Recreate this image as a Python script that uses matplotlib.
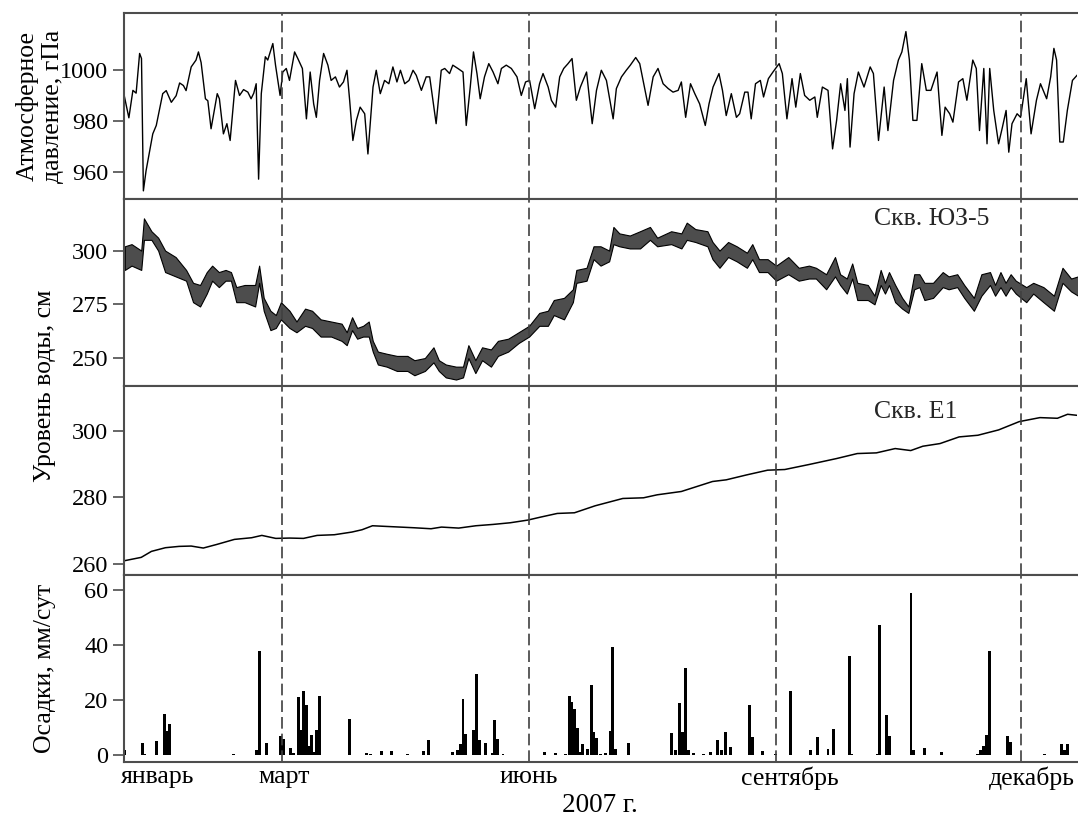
import matplotlib
matplotlib.use("Agg")
import matplotlib.pyplot as plt

plt.rcParams["font.family"] = ["Liberation Serif", "DejaVu Serif"]

# day of year 2007 (0 = 1 January)
press_day = [0, 2, 3.5, 4.7, 6, 6.7, 7.4, 8.4, 10.9, 12.2, 14.6, 15.9, 17.8, 19.6, 20.9,
             22.3, 23.3, 25.2, 27, 27.9, 28.9, 30.5, 31.4, 32.6, 34.9, 35.7, 37.2, 38.5,
             39.7, 41.7, 43.2, 44.7, 46.3, 47.5, 48.5, 49.4, 50.3, 51.3, 52.8, 53.7, 55.6,
             56.6, 58.3, 59.3, 60.6, 61.8, 63.7, 64.9, 66.6, 68.1, 69.5, 70.8, 71.8, 73,
             74.5, 76.1, 77.3, 78.9, 80.4, 81.9, 83.2, 84.2, 85.4, 86.7, 88.1, 89.8, 91,
             92.9, 94.1, 95.6, 97.2, 98.8, 100.3, 101.8, 103.1, 104.7, 106.3, 107.8, 109,
             110.9, 112.7, 114, 116.4, 118.3, 119.6, 121.4, 122.6, 124.5, 126.4, 127.6,
             129.1, 130.3, 131.6, 132.8, 134.4, 136, 137.6, 139.4, 140.7, 142.5, 144.4,
             146.5, 148.1, 149.7, 151.2, 153.1, 154.9, 156.2, 158.1, 159.3, 160.9, 162.4,
             163.9, 165.5, 167, 168.6, 170.1, 172.4, 174.5, 176.1, 177.9, 179.8, 182.3,
             183.5, 185.4, 187.2, 188.7, 190.7, 192.2, 193.7, 195.3, 197.2, 199, 200.9,
             202.8, 204.6, 206.5, 207.7, 209.3, 211.1, 212.7, 214.5, 216.6, 218, 219.5,
             221.7, 223, 224.4, 226.3, 228.2, 229.4, 231.3, 232.5, 233.7, 235.3, 237.1,
             238.3, 240.1, 241.8, 244.1, 245.3, 247, 248.9, 250.3, 252, 253.6, 255.5,
             257.4, 258.3, 260.2, 262.3, 264, 265.5, 267, 268.6, 269.5, 270.5, 272, 273.6,
             275.7, 278, 279.2, 281.1, 283.2, 284.6, 286.7, 288.5, 289.8, 291.3, 292.6,
             293.9, 295.4, 297.2, 298.9, 300.6, 302.9, 304.7, 305.9, 307.6, 308.8, 310.9,
             312.5, 314, 316.2, 317.5, 318.7, 320.3, 321.5, 322.5, 324, 325.8, 327.1,
             328.6, 329.6, 330.8, 332.7, 334, 336.1, 337.9, 339.9, 341.4, 343.7, 345.2,
             346.4, 347.4, 348.6, 349.9, 351.4, 353.3, 355]
press_val = [991.4, 981.3, 992.1, 991, 1006.6, 1004.6, 952.6, 960.5, 975, 978.3, 990.8,
             992, 987.4, 990, 995, 994, 992, 1001.3, 1004, 1007.2, 1003, 988.8, 988, 977,
             990.8, 988.8, 975, 979, 972.4, 996, 990.1, 992.4, 991.4, 988.8, 991, 994.7,
             957.2, 990.8, 1005.3, 1004, 1010.5, 1002, 990.1, 999.3, 1000.7, 996, 1007.2,
             1004.6, 1000.7, 980.9, 999.3, 986.8, 981.5, 996, 1006.6, 1002, 996, 997.4,
             993.4, 995.4, 1000, 988.2, 972.4, 980.3, 985.5, 982.9, 967.1, 993.4, 1000,
             990.8, 996, 994.7, 1001.3, 995.4, 1000, 994.7, 996, 1000, 998, 992.1, 997.4,
             997.4, 979, 1000, 1000.7, 998.7, 1002, 1000.7, 999.3, 978.3, 993.4, 1007.2,
             998.7, 988.8, 997.4, 1002.6, 999.3, 994.7, 1000.7, 1002, 1000.7, 997.4, 990.1,
             995.4, 996, 984.9, 994.7, 998.7, 993.4, 988.2, 985.5, 997.4, 1000.7, 1002.6,
             1004.6, 988.2, 993.4, 999.3, 979, 992.1, 1000, 996, 980.9, 992.8, 997.4,
             1000, 1002, 1005, 1002.6, 994.7, 986.2, 997.4, 1000.7, 994.7, 992.8, 991.4,
             992.1, 995.4, 981.5, 994.7, 990.8, 986.8, 978.3, 986.8, 993.4, 998.7, 992.1,
             982.2, 990.8, 981.5, 982.9, 991.4, 991.4, 980.9, 994.7, 996, 989.5, 996.7,
             999.3, 1002.6, 998.7, 980.9, 996.7, 985.5, 998.7, 990.1, 988.2, 989.5, 981.5,
             993.4, 992.1, 969.1, 980.3, 994.7, 984.2, 996.7, 969.8, 990.8, 999.3, 993.4,
             1001.3, 998.7, 972.4, 993.4, 976.3, 996, 1004, 1007.2, 1015.2, 1004, 980.3,
             980.3, 1002.6, 992.1, 992.1, 999.3, 974.4, 985.5, 982.9, 979.6, 995.4, 996.7,
             988.2, 1004, 1000.7, 976.3, 1000.7, 971.1, 1000.7, 984.2, 971.1, 977, 984.2,
             967.8, 979, 982.9, 981.5, 996.7, 975, 988.2, 994.7, 988.8, 997.4, 1008.6,
             1004, 971.8, 971.8, 984.2, 996, 998]

# well ЮЗ-5: lower and upper envelope of the daily oscillation
lvl_day = [0.5, 3, 6.6, 7.6, 10.4, 12.9, 15.5, 19.4, 23.3, 25.9, 28.5, 31, 33, 35.5, 38, 40,
           42, 45.1, 49, 50.5, 52.2, 54.7, 56.7, 58.6, 61.8, 64.4, 67.6, 70.2, 73.4, 77.3,
           81.2, 83.1, 85.1, 87, 89.2, 91.3, 92.8, 94.7, 98, 101.8, 105.7, 108.3, 112.2,
           115.4, 117.4, 120, 123.8, 126.4, 128.4, 131, 133.5, 136.8, 139.4, 143.2, 147.1,
           151, 154.8, 158, 160.2, 164, 167.3, 168.6, 172.4, 175, 177.6, 180.8, 182.4,
           184.6, 188.5, 192.3, 196, 198.7, 203.9, 207.7, 209.7, 212.9, 217.4, 219.3,
           221.9, 225.1, 228.3, 232.1, 234.1, 236.6, 239.8, 243, 247.5, 251.4, 255.2,
           257.8, 261.6, 264.9, 266.8, 269.3, 271.3, 273.2, 277.1, 279.6, 281.9, 283.5,
           285, 287.3, 289.9, 292.2, 294.4, 296.3, 298.2, 301.4, 305, 307.2, 310.4, 313,
           316.6, 319.4, 322.6, 324.5, 326.5, 328.4, 330.3, 332.2, 336.1, 338.7, 342.5,
           346.4, 349.6, 352.8, 355.4]
lvl_lo = [291, 293, 291, 305, 305, 300, 290, 288, 286, 276, 274, 280, 286, 283, 286, 286,
          276, 276, 274, 285, 272, 263, 264, 268, 264, 262, 265, 264, 260, 260, 258, 256,
          263, 259, 260, 260, 253, 247, 246, 244, 244, 242, 244, 248, 244, 241, 240, 241,
          250, 243, 249, 246, 251, 253, 257, 260, 265, 265, 270, 268, 276, 285, 286, 296,
          293, 295, 303, 302, 301, 301, 305, 302, 303, 301, 305, 304, 302, 296, 292, 297,
          295, 292, 296, 290, 290, 286, 289, 286, 287, 287, 282, 288, 284, 280, 287, 277,
          277, 275, 284, 280, 284, 276, 273, 271, 282, 283, 277, 278, 283, 282, 283, 278,
          272, 279, 284, 279, 283, 279, 283, 280, 276, 280, 276, 272, 285, 281, 279]
lvl_hi = [302, 303, 300, 315, 309, 306, 300, 297, 291, 285, 284, 290, 293, 290, 291, 290,
          283, 284, 284, 293, 278, 272, 270, 276, 272, 267, 273, 272, 268, 267, 266, 262,
          269, 264, 265, 267, 258, 253, 252, 251, 251, 249, 250, 255, 249, 247, 246, 246,
          256, 249, 255, 254, 258, 259, 262, 265, 271, 272, 277, 278, 282, 291, 292, 302,
          302, 300, 311, 308, 307, 309, 311, 306, 309, 308, 313, 310, 309, 304, 300, 304,
          302, 299, 303, 296, 296, 293, 297, 292, 293, 292, 289, 297, 289, 287, 294, 285,
          284, 279, 291, 285, 290, 284, 278, 274, 289, 289, 285, 285, 290, 288, 289, 284,
          278, 289, 290, 284, 290, 285, 289, 286, 283, 285, 283, 279, 292, 287, 288]

# well E1
e1_day = [0.4, 6.6, 10.4, 15.6, 20.7, 25.2, 29.7, 34.8, 41.3, 47.7, 51.5, 56.7, 61.8, 67,
          72.1, 78.5, 85, 88.8, 92.7, 97.8, 103, 108.1, 114.5, 118.4, 124.8, 131.2, 137.6,
          144, 150.5, 155.3, 161.5, 167.9, 175.6, 185.9, 193.6, 198.7, 207.7, 219.3,
          224.4, 232.1, 239.8, 246.2, 255.2, 265.5, 273.2, 280.3, 287.3, 293.1, 297.6,
          304, 311.1, 318.1, 325.8, 333.5, 341.2, 347.7, 351.5, 356]
e1_val = [261, 262, 263.8, 264.9, 265.3, 265.4, 264.8, 265.9, 267.4, 267.9, 268.6, 267.7,
          267.8, 267.7, 268.6, 268.8, 269.6, 270.3, 271.5, 271.3, 271.1, 270.9, 270.6,
          271.1, 270.8, 271.5, 271.9, 272.4, 273.2, 274.1, 275.2, 275.4, 277.5, 279.7,
          279.9, 280.8, 281.8, 284.8, 285.3, 286.8, 288.2, 288.4, 289.9, 291.7, 293.2,
          293.4, 294.7, 294.1, 295.4, 296.2, 298.2, 298.7, 300.3, 302.8, 304, 303.8, 305,
          304.6]

# daily precipitation, mm/day
rain_day = [0.3, 7, 8, 12.4, 15.2, 16.2, 17.2, 41, 49.5, 50.6, 53.4, 58.3, 59.4, 62.2, 63.3,
            65, 66.1, 67, 68.2, 69.2, 70, 71, 72, 73, 84, 90.6, 92, 95.9, 99.7, 105.8,
            111.8, 113.5, 122.6, 124.2, 125.3, 126.4, 127.5, 130.4, 131.4, 132.5, 134.6,
            137.3, 138.2, 139.3, 141.3, 156.8, 160.9, 164.4, 165.9, 166.9, 167.9, 168.9,
            169.9, 171, 172.9, 174.2, 175.1, 176.2, 177.5, 179.4, 181.2, 182.1, 183.3,
            187.9, 204.2, 205.6, 207.1, 208.2, 209.2, 210.5, 212.3, 215.9, 218.5, 221,
            222.5, 224.2, 226, 233.2, 234.1, 237.9, 242.6, 248.2, 255.8, 258.4, 262.3,
            264.4, 270.2, 271.2, 280.9, 281.5, 284, 285.3, 293.2, 294.3, 298.3, 304.5,
            317.8, 319, 320.2, 321.2, 322.4, 329.1, 330.2, 342.9, 349.2, 350.4, 351.6]
rain_val = [2.1, 4.6, 0.5, 5.2, 14.9, 8.8, 11.3, 0.6, 1.8, 37.8, 4.6, 6.9, 5.8, 2.8, 0.8,
            21.2, 9.3, 23.6, 18.4, 3.4, 7.6, 1.2, 9.3, 21.6, 13.1, 0.8, 0.6, 1.6, 1.6, 0.6,
            1.7, 5.5, 1.2, 1.8, 4, 20.4, 7.9, 9.1, 29.7, 5.7, 4.6, 0.8, 12.7, 5.8, 0.6,
            1.2, 1, 0.6, 21.6, 19.6, 17, 10, 1.2, 4, 2.4, 25.5, 8.5, 6.4, 0.6, 0.8, 8.8,
            39.4, 2.4, 4.6, 8.2, 2.1, 19, 8.5, 31.9, 2.1, 0.8, 0.6, 1.2, 5.5, 1.8, 8.5, 3,
            18.2, 6.7, 1.5, 0.4, 23.6, 1.8, 6.7, 2.4, 9.7, 36.2, 0.6, 0.6, 47.3, 14.8, 7,
            59, 1.8, 2.8, 1.2, 0.6, 1.8, 3.6, 7.3, 37.9, 7, 4.8, 0.4, 4, 1.8, 4]

season_days = [59, 151, 243, 334]
month_pos = [12.8, 60, 151, 248, 338]
month_names = ["январь", "март", "июнь", "сентябрь", "декабрь"]

W, H = 1078, 823
fig = plt.figure(figsize=(W / 100, H / 100), dpi=100)

left = 123.5 / W
width = (1077 - 123.5) / W
bands = [(13, 199), (199, 386), (386, 575), (575, 762)]
axes = []
for top, bot in bands:
    ax = fig.add_axes([left, 1 - bot / H, width, (bot - top) / H])
    axes.append(ax)

ax1, ax2, ax3, ax4 = axes

ax1.plot(press_day, press_val, color="black", lw=1.0)
ax1.set_ylim(949.4, 1022.5)
ax1.set_yticks([960, 980, 1000])

ax2.fill_between(lvl_day, lvl_lo, lvl_hi, facecolor="0.3", edgecolor="black", lw=0.8)
ax2.set_ylim(237, 324)
ax2.set_yticks([250, 275, 300])
ax2.text(0.787, 0.86, "Скв. ЮЗ-5", transform=ax2.transAxes, fontsize=18.5, color="0.15")

ax3.plot(e1_day, e1_val, color="black", lw=1.1)
ax3.set_ylim(256.7, 313.5)
ax3.set_yticks([260, 280, 300])
ax3.text(0.787, 0.83, "Скв. Е1", transform=ax3.transAxes, fontsize=18.5, color="0.15")

ax4.bar(rain_day, rain_val, width=1.1, color="black", align="center")
ax4.set_ylim(-2.4, 65.6)
ax4.set_yticks([0, 20, 40, 60])

for ax in axes:
    ax.set_xlim(0, 355)
    for d in season_days:
        ax.axvline(d, color="0.25", lw=1.2, dashes=(7, 3), clip_on=False)
    ax.spines["right"].set_visible(False)
    for s in ("left", "top", "bottom"):
        ax.spines[s].set_color("0.3")
        ax.spines[s].set_linewidth(1.5)
    ax.tick_params(axis="y", direction="out", length=8, width=1.2, color="0.3",
                   labelsize=17.5, pad=3)
    ax.tick_params(axis="x", length=0)
    if ax is not ax4:
        ax.set_xticks([])

ax4.set_xticks(month_pos)
ax4.set_xticklabels(month_names)
ax4.tick_params(axis="x", labelsize=18.5, pad=3)

fig.text(27 / W, 1 - 106 / H, "Атмосферное", rotation=90, ha="center", va="center",
         fontsize=18.5)
fig.text(53 / W, 1 - 106 / H, "давление, гПа", rotation=90, ha="center", va="center",
         fontsize=18.5)
fig.text(45 / W, 1 - 386 / H, "Уровень воды, см", rotation=90, ha="center", va="center",
         fontsize=18.5)
fig.text(45 / W, 1 - 668 / H, "Осадки, мм/сут", rotation=90, ha="center", va="center",
         fontsize=18.5)
fig.text(600 / W, 1 - 806 / H, "2007 г.", ha="center", va="center", fontsize=19.5)

fig.savefig("out.png", dpi=100)
